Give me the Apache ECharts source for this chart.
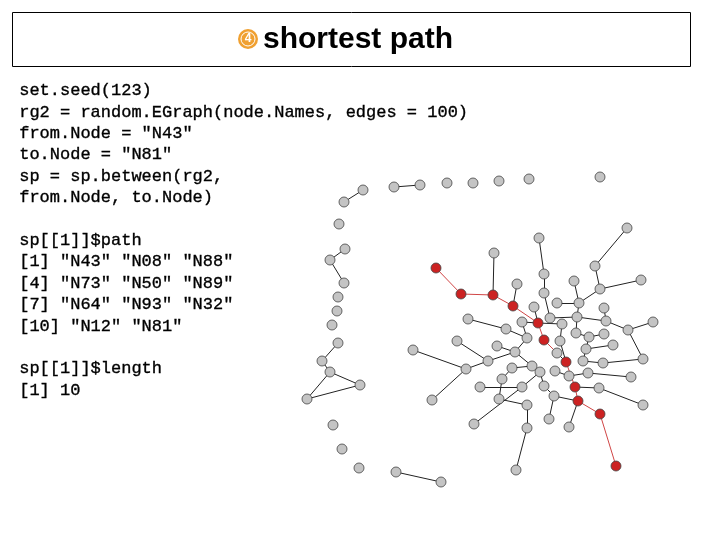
<!DOCTYPE html>
<html><head><meta charset="utf-8">
<script src="https://cdn.jsdelivr.net/npm/echarts@6/dist/echarts.min.js"></script>
<style>html,body{margin:0;background:#fff}#c{width:720px;height:540px}</style>
</head><body><div id="c"></div>
<script>
const codeLines = ['set.seed(123)','rg2 = random.EGraph(node.Names, edges = 100)','from.Node = "N43"','to.Node = "N81"','sp = sp.between(rg2,','from.Node, to.Node)','','sp[[1]]$path','[1] "N43" "N08" "N88"','[4] "N73" "N50" "N89"','[7] "N64" "N93" "N32"','[10] "N12" "N81"','','sp[[1]]$length','[1] 10'];
// node layout positions
const pathNodes = [['p0',436,268],['p1',461,294],['p2',493,295],['p3',513,306],['p4',538,323],['p5',544,340],['p6',566,362],['p7',575,387],['p8',578,401],['p9',600,414],['p10',616,466]];
const grayNodes = [['o1',363,190],['o2',344,202],['o3',394,187],['o4',420,185],['o5',447,183],['o6',473,183],['o7',499,181],['o8',529,179],['o9',600,177],['o10',339,224],['o11',345,249],['o12',330,260],['o13',344,283],['o14',338,297],['o15',337,311],['o16',332,325],['o17',338,343],['o18',322,361],['o19',330,372],['o20',360,385],['o21',307,399],['o22',333,425],['o23',342,449],['o24',359,468],['o25',396,472],['o26',441,482],
['A',494,253],['B',517,284],['C',539,238],['D',544,274],['E',544,293],['F',627,228],['G',595,266],['H',600,289],['I',574,281],['J',579,303],['K',557,303],['L',534,307],['M',550,318],['N',577,317],['O',604,308],['P',606,321],['Q',628,330],['R',562,324],['S',522,322],['T',468,319],['U',506,329],['V',576,333],['W',589,337],['X',604,334],['Y',457,341],['Z',527,338],['a',560,341],['b',497,346],['c',586,349],['d',613,345],['e',413,350],['f',515,352],['g',557,353],['h',488,361],['i',466,369],['j',583,361],['k',603,363],['l',532,366],['m',540,372],['n',512,368],['o',555,371],['p',569,376],['q',588,373],['r',631,377],['s',502,379],['t',480,387],['u',522,387],['v',544,386],['w',599,388],['x',432,400],['y',499,399],['z',554,396],['aa',527,405],['bb',549,419],['cc',569,427],['dd',474,424],['ee',527,428],['ff',516,470],['gg',643,405],['hh',643,359],['ii',653,322],['jj',641,280]];
const pathEdges = [['p0','p1'],['p1','p2'],['p2','p3'],['p3','p4'],['p4','p5'],['p5','p6'],['p6','p7'],['p7','p8'],['p8','p9'],['p9','p10']];
const grayEdges = [['o1','o2'],['o3','o4'],['o11','o12'],['o12','o13'],['o17','o18'],['o18','o19'],['o19','o20'],['o19','o21'],['o21','o20'],['o25','o26'],
['A','p2'],['B','p3'],['C','D'],['D','E'],['E','M'],['F','G'],['G','H'],['H','jj'],['H','J'],['I','J'],['K','J'],['J','N'],['L','p4'],['M','N'],['O','P'],['P','N'],['P','Q'],['Q','ii'],['Q','hh'],['R','p4'],['S','p4'],['S','Z'],['T','U'],['U','Z'],['N','V'],['X','W'],['W','V'],['W','c'],['Y','h'],['h','i'],['e','i'],['x','i'],['h','f'],['f','Z'],['f','l'],['b','f'],['d','c'],['a','p6'],['j','k'],['k','hh'],['c','j'],['l','m'],['m','v'],['v','z'],['z','p8'],['n','s'],['s','y'],['y','aa'],['n','l'],['o','p'],['p','q'],['q','r'],['t','u'],['u','m'],['w','gg'],['w','p7'],['dd','u'],['aa','ee'],['ee','ff'],['bb','z'],['cc','p8'],['g','p6'],['a','R']];
const nodes = pathNodes.map(n => ({name:n[0], value:[n[1],n[2]], itemStyle:{color:'#cc2222'}}))
  .concat(grayNodes.map(n => ({name:n[0], value:[n[1],n[2]], itemStyle:{color:'#c4c4c4'}})));
const links = pathEdges.map(e => ({source:e[0], target:e[1], lineStyle:{color:'#d04545'}}))
  .concat(grayEdges.map(e => ({source:e[0], target:e[1], lineStyle:{color:'#222'}})));
const chart = echarts.init(document.getElementById('c'));
const texts = codeLines.map((t,i) => ({type:'text', left:19, top:82 + i*21.4,
  style:{text:t, font:'17px "Liberation Mono"', fill:'#000', stroke:'#000', lineWidth:0.35}}));
chart.setOption({
  animation:false,
  grid:{left:0,right:0,top:0,bottom:0},
  xAxis:{type:'value',min:0,max:720,show:false},
  yAxis:{type:'value',min:0,max:540,inverse:true,show:false},
  graphic:[
    {type:'rect', shape:{x:12.5,y:12.5,width:678,height:54}, style:{fill:'#fff',stroke:'#000',lineWidth:1}},
    {type:'circle', shape:{cx:248,cy:39,r:10}, style:{fill:'#f0a030'}},
    {type:'circle', shape:{cx:248,cy:39,r:7}, style:{fill:'none',stroke:'#fff',lineWidth:1}},
    {type:'text', x:248, y:39, style:{text:'4', font:'bold 12px "Liberation Sans"', fill:'#fff', align:'center', verticalAlign:'middle'}},
    {type:'text', x:263, y:40, style:{text:'shortest path', font:'bold 30px "Liberation Sans"', fill:'#000', verticalAlign:'middle'}}
  ].concat(texts),
  series:[{type:'graph', coordinateSystem:'cartesian2d', layout:'none', symbolSize:10,
    itemStyle:{borderColor:'#444', borderWidth:0.8}, lineStyle:{width:1, opacity:1},
    data:nodes, links:links, z:2}]
});
</script></body></html>
